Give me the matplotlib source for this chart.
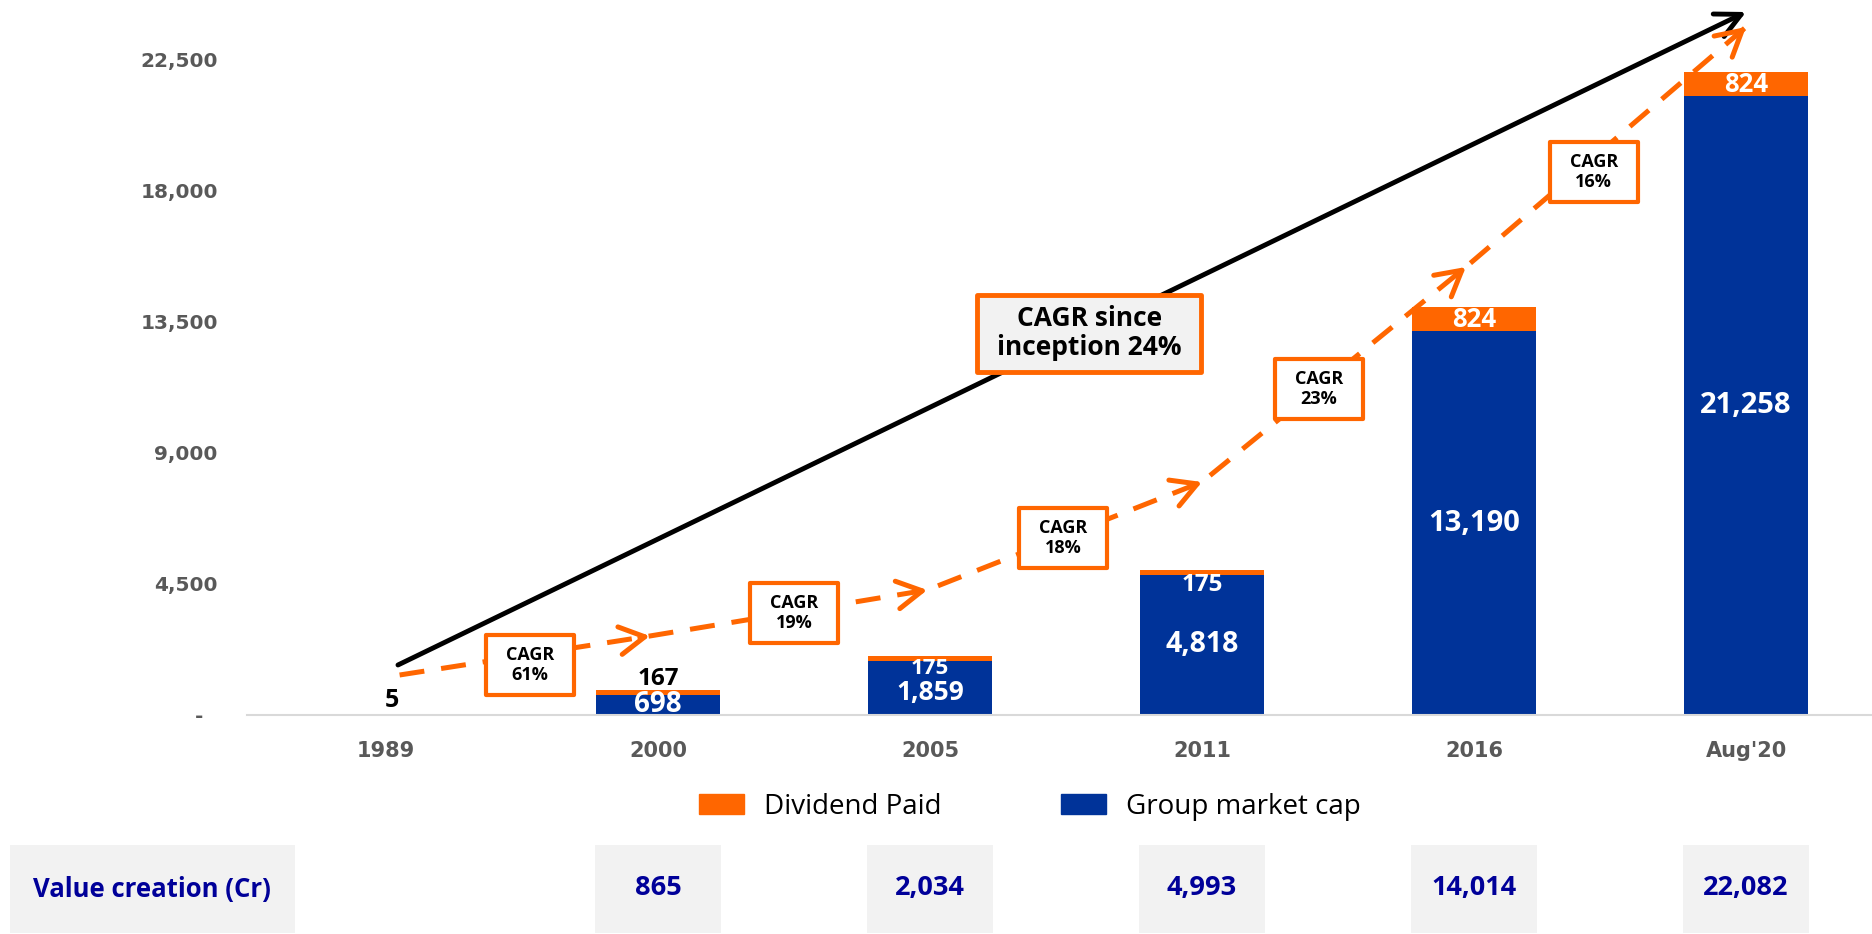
import numpy as np
import matplotlib.pyplot as plt
from matplotlib.patches import Patch, Rectangle

# ---------------- data ----------------
categories = ["1989", "2000", "2005", "2011", "2016", "Aug'20"]
market_cap = [5, 698, 1859, 4818, 13190, 21258]
dividend = [0, 167, 175, 175, 824, 824]
value_creation = [None, 865, 2034, 4993, 14014, 22082]
cagr_steps = ["61%", "19%", "18%", "23%", "16%"]
cagr_total = "24%"

yticks = [0, 4500, 9000, 13500, 18000, 22500]

# ---------------- layout (annotation geometry) ----------------
trend_x = [0.05, 0.97, 1.99, 3.0, 3.97, 5.0]
trend_y = [1374, 2714, 4294, 8004, 15389, 23634]
cagr_box_xy = [(0.53, 1718), (1.50, 3504), (2.49, 6080), (3.43, 11198), (4.44, 18653)]
total_box_xy = (2.585, 13122)

ORANGE = "#FF6600"
BLUE = "#003399"
NAVY = "#000099"
GREY_TXT = "#595959"
FONT = "Open Sans"
W, H = 1872, 934

fig = plt.figure(figsize=(W / 100, H / 100), dpi=100)
ax = fig.add_axes([247 / W, 219 / H, 1625 / W, 715 / H])
xlim = (-0.511, 5.463)
ylim = (0, 24561)
ax.set_xlim(xlim)
ax.set_ylim(ylim)
px_x = (xlim[1] - xlim[0]) / 1625  # data units per pixel
px_y = (ylim[1] - ylim[0]) / 715

x = np.arange(len(categories))
bw = 0.456
ax.bar(x, market_cap, width=bw, color=BLUE, zorder=2)
ax.bar(x, dividend, bottom=market_cap, width=bw, color=ORANGE, zorder=2)

# axes styling
for s in ["top", "right", "left"]:
    ax.spines[s].set_visible(False)
ax.spines["bottom"].set_color("#D9D9D9")
ax.spines["bottom"].set_linewidth(1.5)
ax.set_yticks(yticks, ["-  "] + [f"{v:,}" for v in yticks[1:]])
ax.set_xticks(x, categories)
ax.tick_params(axis="y", length=0, pad=21, labelsize=14.5, labelcolor=GREY_TXT)
ax.tick_params(axis="x", length=0, pad=19, labelsize=15, labelcolor=GREY_TXT)
for lbl in ax.get_yticklabels() + ax.get_xticklabels():
    lbl.set_fontweight("bold")

lab = dict(family=FONT, weight="bold", ha="center", va="center", zorder=6)

# bar labels
for i in x:
    mc, dv = market_cap[i], dividend[i]
    top = mc + dv
    if dv == 0:
        ax.annotate(f"{top:,}", (i + 0.02, top), xytext=(0, 1), textcoords="offset points",
                    family=FONT, weight="bold", ha="center", va="bottom", fontsize=18, color="black")
        continue
    if top < 1000:
        ax.annotate(f"{dv:,}", (i, top), xytext=(0, -1), textcoords="offset points",
                    family=FONT, weight="bold", ha="center", va="bottom", fontsize=17.5, color="black")
        ax.text(i, mc / 2, f"{mc:,}", fontsize=20, color="white", clip_on=True, **lab)
    elif dv < 500:
        # label sits just under the thin orange cap
        small = top < 3000
        ax.annotate(f"{dv:,}", (i, top), xytext=(0, -9 if small else -11), textcoords="offset points",
                    fontsize=16 if small else 17.5, color="white", **lab)
        ax.annotate(f"{mc:,}", (i, mc / 2), xytext=(0, -3 if small else 0), textcoords="offset points",
                    fontsize=19 if small else 20.5, color="white", **lab)
    else:
        ax.text(i, mc + dv / 2, f"{dv:,}", fontsize=18.5, color="white", **lab)
        ax.text(i, mc / 2, f"{mc:,}", fontsize=21, color="white", **lab)

# overall CAGR arrow
ax.annotate("", xy=(5.0, 24149), xytext=(0.044, 1718),
            arrowprops=dict(arrowstyle="->,head_length=0.9,head_width=0.45", lw=3.5,
                            color="black", mutation_scale=20, shrinkA=0, shrinkB=0),
            annotation_clip=False, zorder=3)

# dashed step trend with open heads
ax.plot(trend_x, trend_y, color=ORANGE, lw=3.6, ls=(0, (5, 3.4)), zorder=3,
        solid_capstyle="butt", dash_capstyle="butt")
for k in range(1, len(trend_x)):
    x0, y0 = trend_x[k - 1], trend_y[k - 1]
    x1, y1 = trend_x[k], trend_y[k]
    ax.annotate("", xy=(x1, y1), xytext=(x1 - (x1 - x0) * 0.04, y1 - (y1 - y0) * 0.04),
                arrowprops=dict(arrowstyle="->,head_length=0.9,head_width=0.5", lw=3.6,
                                color=ORANGE, mutation_scale=20, shrinkA=0, shrinkB=0),
                annotation_clip=False, zorder=3)

# CAGR boxes
bw_px, bh_px = 88, 60
for (cx, cy), txt in zip(cagr_box_xy, cagr_steps):
    w, h = bw_px * px_x, bh_px * px_y
    ax.add_patch(Rectangle((cx - w / 2, cy - h / 2), w, h, facecolor="white",
                           edgecolor=ORANGE, lw=3, zorder=5, joinstyle="round"))
    ax.text(cx, cy, f"CAGR\n{txt}", fontsize=13, color="black", linespacing=1.15, **lab)

cx, cy = total_box_xy
w, h = 224 * px_x, 77 * px_y
ax.add_patch(Rectangle((cx - w / 2, cy - h / 2), w, h, facecolor="#F2F2F2",
                       edgecolor=ORANGE, lw=3.5, zorder=5, joinstyle="round"))
ax.text(cx, cy, f"CAGR since\ninception {cagr_total}", fontsize=19, color="black",
        linespacing=1.05, **lab)

# legend
handles = [Patch(color=ORANGE, label="Dividend Paid"), Patch(color=BLUE, label="Group market cap")]
fig.legend(handles=handles, loc="center", bbox_to_anchor=(0.55, 1 - 807 / H), ncol=2,
           frameon=False, prop={"family": FONT, "size": 20},
           handlelength=1.62, handleheight=0.72, handletextpad=0.72, columnspacing=4.3)

# value creation table
tax = fig.add_axes([247 / W, 0, 1625 / W, 95 / H])
tax.set_xlim(xlim)
tax.set_ylim(0, 95)
tax.axis("off")
has = np.array([v is not None for v in value_creation])
tax.bar(x[has], [88] * int(has.sum()), bottom=1, width=0.46, color="#F2F2F2", zorder=1)
for i in x[has]:
    tax.text(i, 46, f"{value_creation[i]:,}", fontsize=19.5, color=NAVY, **lab)
fig.patches.append(Rectangle((10 / W, 1 / H), 285 / W, 88 / H, transform=fig.transFigure,
                             facecolor="#F2F2F2", edgecolor="none", zorder=0))
fig.text(152 / W, 1 - 889 / H, "Value creation (Cr)", fontsize=18.5, color=NAVY,
         family=FONT, weight="bold", ha="center", va="center")

fig.savefig("out.png", dpi=100)
